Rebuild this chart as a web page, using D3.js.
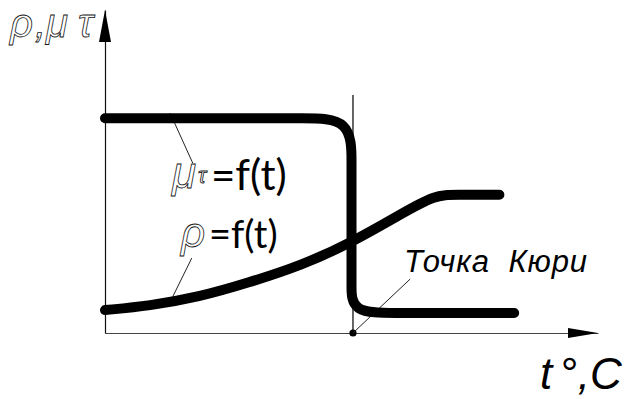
<!DOCTYPE html>
<html>
<head>
<meta charset="utf-8">
<script src="https://cdn.jsdelivr.net/npm/d3@7/dist/d3.min.js"></script>
<style>
  html, body { margin: 0; padding: 0; background: #fff; }
  svg { display: block; }
  .greek { font-family: "Liberation Sans", Arial, sans-serif; font-style: italic; fill: #fff; stroke: #111; stroke-width: 0.8px; }
  .formula { font-family: Lato, "Open Sans", sans-serif; fill: #000; }
  .note { font-family: "Liberation Sans", Arial, sans-serif; font-style: italic; fill: #000; }
</style>
</head>
<body>
<script>
// Temperature axis (relative units) and the two property curves
const muT    = [0, 30, 40, 50, 50, 50, 50, 50, 50, 59, 68, 83];
const muVal  = [66.5, 66.5, 66.5, 66.5, 52, 47, 20, 15, 6.2, 6.2, 6.2, 6.2];
const rhoT   = [0, 9, 19, 29, 40, 50, 60, 67, 71, 80];
const rhoVal = [7.1, 8.4, 11.1, 15.5, 21, 28, 36.8, 42.8, 42.8, 42.8];
const curieT = 50.3;

const W = 624, H = 399;
const svg = d3.select("body").append("svg").attr("width", W).attr("height", H);

const x = d3.scaleLinear().domain([0, 100]).range([105, 598]);
const y = d3.scaleLinear().domain([0, 100]).range([333, 10]);

// axes without ticks, finished with arrowheads
svg.append("g").attr("transform", `translate(0,${y(0)})`)
  .call(d3.axisBottom(x).tickValues([]).tickSizeOuter(0))
  .select(".domain").attr("stroke", "#444").attr("stroke-width", 1.2);
svg.append("g").attr("transform", `translate(${x(0)},0)`)
  .call(d3.axisLeft(y).tickValues([]).tickSizeOuter(0))
  .select(".domain").attr("stroke", "#111").attr("stroke-width", 1.2);

svg.append("path")
  .attr("d", `M${x(100)},${y(0)} L${x(100) - 30},${y(0) - 5} L${x(100) - 30},${y(0) + 5} Z`)
  .attr("fill", "#000");
svg.append("path")
  .attr("d", `M${x(0)},${y(100)} L${x(0) - 6},${y(100) + 32} L${x(0) + 6},${y(100) + 32} Z`)
  .attr("fill", "#000");

// Curie temperature marker
svg.append("line")
  .attr("x1", x(curieT)).attr("x2", x(curieT))
  .attr("y1", y(73.7)).attr("y2", y(0))
  .attr("stroke", "#000").attr("stroke-width", 1.2);
svg.append("circle").attr("cx", x(curieT)).attr("cy", y(0)).attr("r", 3.6).attr("fill", "#000");

// leader lines for the annotations
const leaders = [
  [[13.2, 68.1], [17.8, 52.6]],
  [[13.6, 10.8], [17.6, 23.2]],
  [[curieT, 0], [61.9, 16.7]]
];
svg.selectAll("line.leader").data(leaders).enter().append("line")
  .attr("class", "leader")
  .attr("x1", d => x(d[0][0])).attr("y1", d => y(d[0][1]))
  .attr("x2", d => x(d[1][0])).attr("y2", d => y(d[1][1]))
  .attr("stroke", "#222").attr("stroke-width", 1);

// property curves
const line = d3.line().x(d => x(d[0])).y(d => y(d[1])).curve(d3.curveBasis);
const curves = [d3.zip(muT, muVal), d3.zip(rhoT, rhoVal)];
svg.selectAll("path.curve").data(curves).enter().append("path")
  .attr("class", "curve")
  .attr("d", line)
  .attr("fill", "none")
  .attr("stroke", "#000")
  .attr("stroke-width", 10)
  .attr("stroke-linecap", "round")
  .attr("stroke-linejoin", "round");

// y-axis title: ρ,μτ
const yt = svg.append("text").attr("class", "greek").attr("font-size", 40).attr("y", 37);
yt.append("tspan").attr("x", 10).text("ρ");
yt.append("tspan").attr("x", 35).text(",");
yt.append("tspan").attr("x", 46).text("μ");
yt.append("tspan").attr("x", 78).text("τ");

// μτ = f(t)
svg.append("text").attr("class", "greek").attr("font-size", 44).attr("x", 172).attr("y", 188).text("μ");
svg.append("text").attr("class", "greek").attr("font-size", 22).attr("x", 198).attr("y", 183).text("τ");
svg.append("text").attr("class", "formula").attr("font-size", 42).attr("x", 211).attr("y", 190).text("=f(t)");

// ρ = f(t)
svg.append("text").attr("class", "greek").attr("font-size", 42).attr("x", 181).attr("y", 247).text("ρ");
svg.append("text").attr("class", "formula").attr("font-size", 38).attr("x", 209).attr("y", 248).text("=f(t)");

// Curie point label
svg.append("text").attr("class", "note").attr("font-size", 31).attr("x", 404).attr("y", 272)
  .attr("letter-spacing", 0.8)
  .attr("xml:space", "preserve").style("white-space", "pre").text("Точка  Кюри");

// temperature axis title
const xt = svg.append("text").attr("class", "note").attr("font-size", 44).attr("x", 540).attr("y", 389);
xt.append("tspan").text("t");
xt.append("tspan").attr("dx", 7).text("°");
xt.append("tspan").attr("dx", 1).text(",");
xt.append("tspan").text("C");
</script>
</body>
</html>
